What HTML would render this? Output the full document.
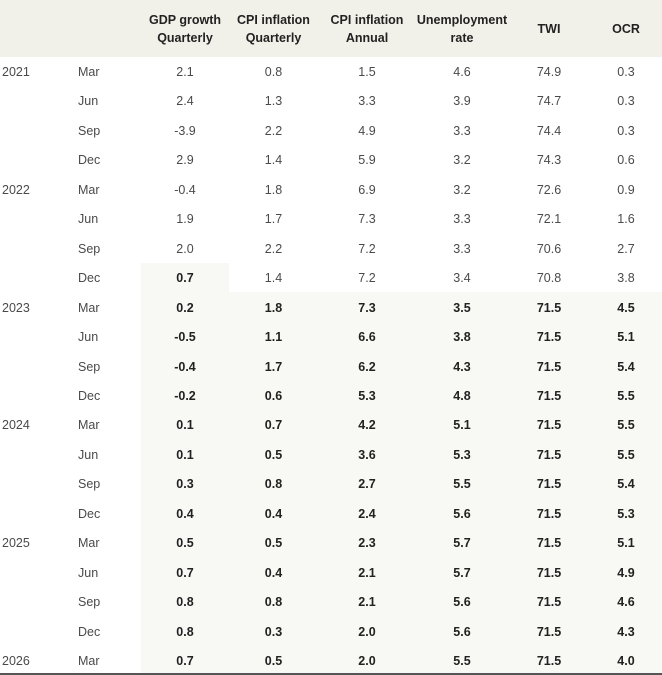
<!DOCTYPE html>
<html><head><meta charset="utf-8">
<style>
html,body{margin:0;padding:0;background:#fff;width:662px;height:675px;overflow:hidden}
body{font-family:"Liberation Sans",Arial,sans-serif;position:relative}
.hdr{position:absolute;left:0;top:0;width:662px;height:57px;background:#f2f1e9}
.h{position:absolute;top:0;height:57px;display:flex;align-items:center;justify-content:center;text-align:center;font-weight:bold;font-size:12.5px;line-height:18px;color:#222}
.shade{position:absolute;background:#f8f8f4}
.c{position:absolute;font-size:12.5px;color:#4a4a4a;text-align:center;height:29.45px;line-height:29.45px}
.b{font-weight:bold;color:#222}
.bot{position:absolute;left:0;top:673px;width:662px;height:2px;background:#555}
</style></head>
<body>
<div class="hdr"></div>
<div class="shade" style="left:141px;top:263px;width:88px;height:30px"></div>
<div class="shade" style="left:141px;top:292px;width:521px;height:381px"></div>
<div id="t"></div>
<div class="bot"></div>
<script>
const headers=["GDP growth<br>Quarterly","CPI inflation<br>Quarterly","CPI inflation<br>Annual","Unemployment<br>rate","TWI","OCR"];
const colL=[141,229,318,416,508,590];
const colW=[88,89,98,92,82,72];
const years=["2021","","","","2022","","","","2023","","","","2024","","","","2025","","","","2026"];
const months=["Mar","Jun","Sep","Dec","Mar","Jun","Sep","Dec","Mar","Jun","Sep","Dec","Mar","Jun","Sep","Dec","Mar","Jun","Sep","Dec","Mar"];
const gdp=["2.1","2.4","-3.9","2.9","-0.4","1.9","2.0","0.7","0.2","-0.5","-0.4","-0.2","0.1","0.1","0.3","0.4","0.5","0.7","0.8","0.8","0.7"];
const cpiq=["0.8","1.3","2.2","1.4","1.8","1.7","2.2","1.4","1.8","1.1","1.7","0.6","0.7","0.5","0.8","0.4","0.5","0.4","0.8","0.3","0.5"];
const cpia=["1.5","3.3","4.9","5.9","6.9","7.3","7.2","7.2","7.3","6.6","6.2","5.3","4.2","3.6","2.7","2.4","2.3","2.1","2.1","2.0","2.0"];
const unemp=["4.6","3.9","3.3","3.2","3.2","3.3","3.3","3.4","3.5","3.8","4.3","4.8","5.1","5.3","5.5","5.6","5.7","5.7","5.6","5.6","5.5"];
const twi=["74.9","74.7","74.4","74.3","72.6","72.1","70.6","70.8","71.5","71.5","71.5","71.5","71.5","71.5","71.5","71.5","71.5","71.5","71.5","71.5","71.5"];
const ocr=["0.3","0.3","0.3","0.6","0.9","1.6","2.7","3.8","4.5","5.1","5.4","5.5","5.5","5.5","5.4","5.3","5.1","4.9","4.6","4.3","4.0"];
const names=["gdp","cpi-q","cpi-a","unemployment","twi","ocr"];
const t=document.getElementById('t');
headers.forEach((h,i)=>{
  const d=document.createElement('div');d.className='h';
  
  
  d.style.left=colL[i]+'px';d.style.width=colW[i]+'px';d.innerHTML=h;t.appendChild(d);
});
const cols=[gdp,cpiq,cpia,unemp,twi,ocr];
const rowH=29.45,top0=58;
for(let r=0;r<months.length;r++){
  const y=top0+r*rowH;
  const yd=document.createElement('div');yd.className='c';
  
  
  yd.style.left='2px';yd.style.textAlign='left';yd.style.top=y+'px';yd.textContent=years[r];t.appendChild(yd);
  const md=document.createElement('div');md.className='c';
  
  
  md.style.left='78px';md.style.textAlign='left';md.style.top=y+'px';md.textContent=months[r];t.appendChild(md);
  cols.forEach((arr,i)=>{
    const c=document.createElement('div');
    const bold=r>=8||(r===7&&i===0);
    c.className='c'+(bold?' b':'');
    
    
    c.style.left=colL[i]+'px';c.style.width=colW[i]+'px';c.style.top=y+'px';c.textContent=arr[r];t.appendChild(c);
  });
}
</script>
</body></html>
